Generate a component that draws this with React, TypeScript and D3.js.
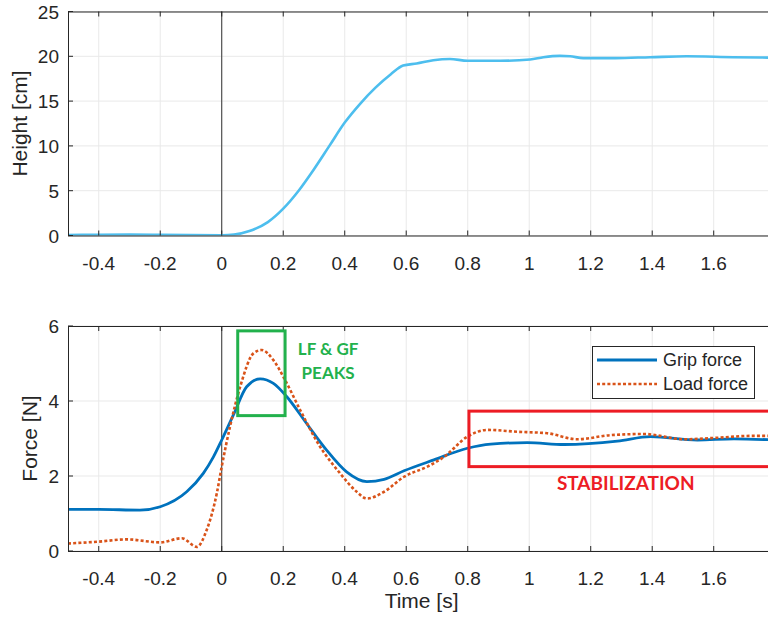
import * as d3 from 'd3'

// ---- data ----
const xTicks = [-0.4, -0.2, 0, 0.2, 0.4, 0.6, 0.8, 1, 1.2, 1.4, 1.6, 1.8]
const heightTicks = [0, 5, 10, 15, 20, 25]
const forceTicks = [0, 2, 4, 6]

const heightT = [-0.5, -0.4, -0.3, -0.2, -0.1, 0, 0.04, 0.09, 0.15, 0.2, 0.25, 0.3, 0.35, 0.4, 0.45, 0.5, 0.55, 0.59, 0.634, 0.688, 0.742, 0.8, 0.905, 1.003, 1.046, 1.1, 1.133, 1.176, 1.28, 1.393, 1.512, 1.663, 1.8]
const heightV = [0.05, 0.08, 0.1, 0.08, 0.05, 0.02, 0.1, 0.5, 1.5, 3.0, 5.0, 7.4, 10.0, 12.6, 14.7, 16.5, 18.0, 18.97, 19.2, 19.56, 19.7, 19.5, 19.5, 19.65, 19.9, 20.05, 20.0, 19.8, 19.8, 19.9, 20.0, 19.9, 19.85]

const gripT = [-0.5, -0.4, -0.266, -0.2, -0.114, -0.06, -0.027, 0, 0.038, 0.081, 0.125, 0.168, 0.211, 0.276, 0.341, 0.406, 0.472, 0.528, 0.593, 0.69, 0.799, 0.875, 0.994, 1.113, 1.287, 1.395, 1.547, 1.666, 1.8]
const gripV = [1.11, 1.11, 1.09, 1.18, 1.58, 2.07, 2.51, 2.96, 3.63, 4.38, 4.59, 4.47, 4.12, 3.4, 2.69, 2.11, 1.85, 1.91, 2.14, 2.43, 2.74, 2.85, 2.89, 2.84, 2.93, 3.05, 2.96, 2.99, 2.96]

const loadT = [-0.5, -0.4, -0.309, -0.2, -0.13, -0.081, -0.049, -0.016, 0, 0.027, 0.06, 0.103, 0.13, 0.168, 0.206, 0.255, 0.32, 0.385, 0.439, 0.472, 0.528, 0.593, 0.669, 0.723, 0.799, 0.864, 0.961, 1.059, 1.156, 1.265, 1.373, 1.503, 1.612, 1.72, 1.8]
const loadV = [0.2, 0.25, 0.31, 0.23, 0.34, 0.11, 0.56, 1.54, 2.25, 3.32, 4.38, 5.27, 5.36, 5.09, 4.56, 3.76, 2.78, 2.07, 1.58, 1.4, 1.58, 1.98, 2.25, 2.51, 3.05, 3.23, 3.18, 3.14, 2.98, 3.09, 3.12, 2.98, 3.02, 3.07, 3.07]

const seriesNames = ['Grip force', 'Load force']

// annotation boxes in data units [t0, t1, f0, f1]
const peakBox = [0.052, 0.206, 3.61, 5.87]
const stabBox = [0.804, 1.85, 2.25, 3.73]
const peakLabel = ['LF & GF', 'PEAKS']
const stabLabel = 'STABILIZATION'

const W = 768
const H = 619
const FONT = '"Liberation Sans", Arial, sans-serif'
const ANNO_FONT = "Lato, 'Open Sans', sans-serif"
const TXT = '#262626'
const GRID = '#e9e9e9'
const C_HEIGHT = '#4DBEEE'
const C_GRIP = '#0072BD'
const C_LOAD = '#D95319'
const C_GREEN = '#22B14C'
const C_RED = '#ED1C24'

const x = d3.scaleLinear().domain([-0.5, 1.8]).range([68, 775.2])
const yTop = d3.scaleLinear().domain([0, 25]).range([235.5, 11.5])
const yBot = d3.scaleLinear().domain([0, 6]).range([551, 326])

type Pt = [number, number]
const zip = (t: number[], v: number[]): Pt[] => t.map((d, i) => [d, v[i]])

function Axes({ y, ticks, label, labelX, clipId }: { y: d3.ScaleLinear<number, number>; ticks: number[]; label: string; labelX: number; clipId: string }) {
  const [x0, x1] = x.range()
  const [yb, yt] = y.range()
  return (
    <g>
      <defs>
        <clipPath id={clipId}>
          <rect x={x0} y={yt} width={x1 - x0} height={yb - yt} />
        </clipPath>
      </defs>
      {xTicks.map((t) => (
        <line key={'gx' + t} x1={x(t)} x2={x(t)} y1={yt} y2={yb} stroke={GRID} strokeWidth={1} />
      ))}
      {ticks.map((t) => (
        <line key={'gy' + t} x1={x0} x2={x1} y1={y(t)} y2={y(t)} stroke={GRID} strokeWidth={1} />
      ))}
      {/* zero-time marker */}
      <line x1={x(0)} x2={x(0)} y1={yt} y2={yb} stroke="#333" strokeWidth={1} />
      {/* tick labels (the last one falls outside the window) */}
      {xTicks
        .filter((t) => x(t) + 12 < W)
        .map((t) => (
          <text key={'lx' + t} x={x(t)} y={yb + 34} textAnchor="middle" fontSize={19} fill={TXT} fontFamily={FONT}>
            {String(t)}
          </text>
        ))}
      {ticks.map((t) => (
        <text key={'ly' + t} x={x0 - 9} y={y(t) + 7} textAnchor="end" fontSize={19} fill={TXT} fontFamily={FONT}>
          {t}
        </text>
      ))}
      <text transform={`translate(${labelX},${(yt + yb) / 2}) rotate(-90)`} textAnchor="middle" fontSize={21} fill={TXT} fontFamily={FONT}>
        {label}
      </text>
    </g>
  )
}

function Frame({ y, ticks }: { y: d3.ScaleLinear<number, number>; ticks: number[] }) {
  const [x0, x1] = x.range()
  const [yb, yt] = y.range()
  return (
    <g stroke={TXT} strokeWidth={1} fill="none">
      <rect x={x0 + 0.5} y={yt + 0.5} width={x1 - x0} height={yb - yt} />
      {xTicks.map((t) => (
        <g key={t}>
          <line x1={x(t)} x2={x(t)} y1={yb} y2={yb - 5} />
          <line x1={x(t)} x2={x(t)} y1={yt} y2={yt + 5} />
        </g>
      ))}
      {ticks.map((t) => (
        <line key={'ty' + t} x1={x0} x2={x0 + 5} y1={y(t)} y2={y(t)} />
      ))}
    </g>
  )
}

export default function App() {
  const lineTop = d3.line<Pt>().x((d) => x(d[0])).y((d) => yTop(d[1])).curve(d3.curveMonotoneX)
  const lineBot = d3.line<Pt>().x((d) => x(d[0])).y((d) => yBot(d[1])).curve(d3.curveMonotoneX)

  const [lx0, lx1] = [592, 754]
  const legendTop = 346
  const legendBottom = 398

  return (
    <svg width={W} height={H} style={{ position: 'fixed', left: 0, top: 0, background: '#fff' }}>
      <rect width={W} height={H} fill="#fff" />

      {/* top: height */}
      <Axes y={yTop} ticks={heightTicks} label="Height [cm]" labelX={27} clipId="clipTop" />
      <path d={lineTop(zip(heightT, heightV)) ?? ''} fill="none" stroke={C_HEIGHT} strokeWidth={2.6} clipPath="url(#clipTop)" />
      <Frame y={yTop} ticks={heightTicks} />

      {/* bottom: force */}
      <Axes y={yBot} ticks={forceTicks} label="Force [N]" labelX={37} clipId="clipBot" />
      <g clipPath="url(#clipBot)">
        <path d={lineBot(zip(gripT, gripV)) ?? ''} fill="none" stroke={C_GRIP} strokeWidth={2.8} />
        <path d={lineBot(zip(loadT, loadV)) ?? ''} fill="none" stroke={C_LOAD} strokeWidth={2.6} strokeDasharray="3 2.2" />
      </g>
      <Frame y={yBot} ticks={forceTicks} />
      <text x={(x.range()[0] + x.range()[1]) / 2} y={608} textAnchor="middle" fontSize={21} fill={TXT} fontFamily={FONT}>
        Time [s]
      </text>

      {/* legend */}
      <rect x={lx0 + 0.5} y={legendTop + 0.5} width={lx1 - lx0} height={legendBottom - legendTop} fill="#fff" stroke={TXT} strokeWidth={1} />
      <line x1={597} x2={657} y1={360} y2={360} stroke={C_GRIP} strokeWidth={2.8} />
      <line x1={597} x2={657} y1={384} y2={384} stroke={C_LOAD} strokeWidth={2.6} strokeDasharray="3 2.2" />
      {seriesNames.map((n, i) => (
        <text key={n} x={663} y={366 + i * 24} fontSize={18} fill={TXT} fontFamily={FONT}>
          {n}
        </text>
      ))}

      {/* annotations */}
      <rect
        x={x(peakBox[0])}
        y={yBot(peakBox[3])}
        width={x(peakBox[1]) - x(peakBox[0])}
        height={yBot(peakBox[2]) - yBot(peakBox[3])}
        fill="none"
        stroke={C_GREEN}
        strokeWidth={3}
      />
      {peakLabel.map((s, i) => (
        <text key={s} x={x(0.346)} y={yBot(5.22) + i * 24} textAnchor="middle" fontSize={17} fontWeight="bold" fill={C_GREEN} fontFamily={ANNO_FONT}>
          {s}
        </text>
      ))}
      <rect
        x={x(stabBox[0])}
        y={yBot(stabBox[3])}
        width={x(stabBox[1]) - x(stabBox[0])}
        height={yBot(stabBox[2]) - yBot(stabBox[3])}
        fill="none"
        stroke={C_RED}
        strokeWidth={3}
      />
      <text x={x(1.314)} y={yBot(1.63)} textAnchor="middle" fontSize={19} fontWeight="bold" fill={C_RED} fontFamily={ANNO_FONT}>
        {stabLabel}
      </text>
    </svg>
  )
}
